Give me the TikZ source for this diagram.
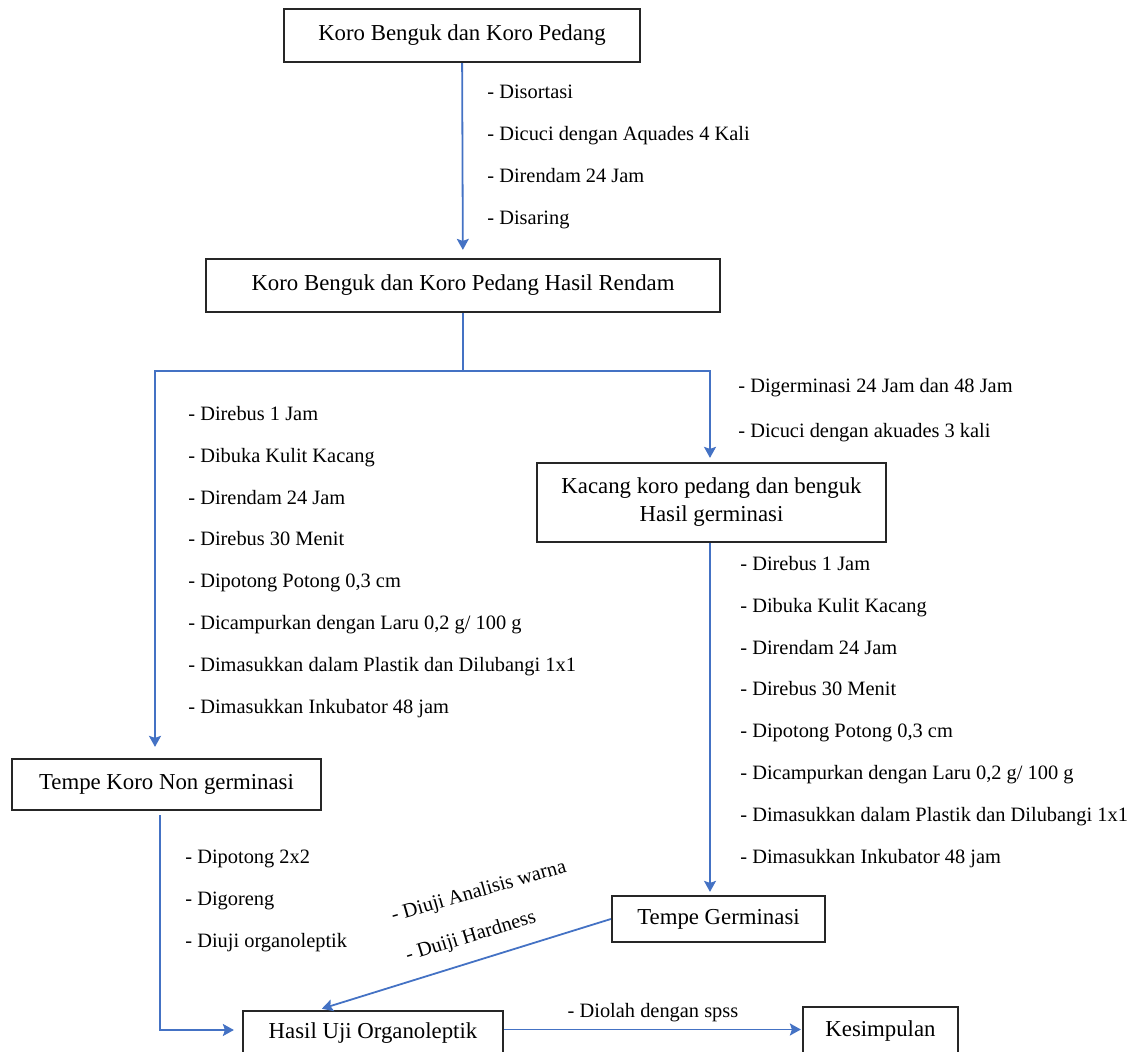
\documentclass[tikz,border=0pt]{standalone}
\usepackage{fontspec}
\setmainfont{Liberation Serif}
\usetikzlibrary{arrows.meta}

\definecolor{flowblue}{HTML}{4472C4}

\tikzset{
  box/.style={draw=black!85, line width=1.1pt, inner sep=0pt, align=center, font=\fontsize{11.4}{14}\selectfont},
  flow/.style={draw=flowblue, line width=0.9pt, -{Stealth[length=5.5pt,width=6pt,inset=1pt]}},
  link/.style={draw=flowblue, line width=0.9pt},
  steps/.style={anchor=north west, inner sep=0pt, align=left, font=\fontsize{10.2}{20.9}\selectfont},
  note/.style={inner sep=0pt, font=\fontsize{10.2}{12}\selectfont},
}

\begin{document}
\begin{tikzpicture}[x=0.5pt, y=-0.5pt]
\useasboundingbox (0,0) rectangle (1141,1052);

% Boxes
\node[box, minimum width=178pt, minimum height=26.5pt] (koro) at (462,35.5) {Koro Benguk dan Koro Pedang};
\node[box, minimum width=257pt, minimum height=26.5pt] (rendam) at (463,285.5) {Koro Benguk dan Koro Pedang Hasil Rendam};
\node[box, minimum width=174.5pt, minimum height=39.5pt] (germ) at (711.5,502.5) {Kacang koro pedang dan benguk\\Hasil germinasi};
\node[box, minimum width=154.5pt, minimum height=25.5pt] (nongerm) at (166.5,784.5) {Tempe Koro Non germinasi};
\node[box, minimum width=106.5pt, minimum height=23pt] (tempeg) at (718.5,919) {Tempe Germinasi};
\node[box, minimum width=130pt, minimum height=22.5pt] (hasil) at (373,1033.5) {Hasil Uji Organoleptik};
\node[box, minimum width=77.5pt, minimum height=24.5pt] (simpul) at (880.5,1031.5) {Kesimpulan};

% Branch points
\coordinate (split) at (463,371);
\coordinate (lturn) at (155,371);
\coordinate (rturn) at (710,371);
\coordinate (ncorner) at (160,1030);

% Connectors
\draw[flow, shorten >=4pt] (koro) -- (rendam);
\draw[link] (rendam) -- (split);
\draw[flow, shorten >=5.5pt] (split) -- (lturn) -- (lturn |- nongerm.north);
\draw[flow, shorten >=2pt] (split) -- (rturn) -- (rturn |- germ.north);
\draw[flow, shorten >=1.5pt] (germ.south -| rturn) -- (rturn |- tempeg.north);
\draw[flow, shorten >=4pt, shorten <=2pt] (nongerm.south -| ncorner) -- (ncorner) -- (ncorner -| hasil.west);
\draw[flow, shorten >=2pt] (tempeg.west) -- ([xshift=-27.5pt]hasil.north);
\draw[flow, shorten >=0.5pt] ([yshift=2pt]hasil.east) -- ([yshift=2pt]hasil.east -| simpul.west);

% Process steps
\node[steps] (sortir) at (487,85) {- Disortasi\\- Dicuci dengan Aquades 4 Kali\\- Direndam 24 Jam\\- Disaring};
\node[steps] (nonsteps) at (188,406) {- Direbus 1 Jam\\- Dibuka Kulit Kacang\\- Direndam 24 Jam\\- Direbus 30 Menit\\- Dipotong Potong 0,3 cm\\- Dicampurkan dengan Laru 0,2 g/ 100 g\\- Dimasukkan dalam Plastik dan Dilubangi 1x1\\- Dimasukkan Inkubator 48 jam};
\node[steps] (germsteps) at (738,378) {- Digerminasi 24 Jam dan 48 Jam\\[1.5pt]- Dicuci dengan akuades 3 kali};
\node[steps] (tempesteps) at (740,556) {- Direbus 1 Jam\\- Dibuka Kulit Kacang\\- Direndam 24 Jam\\- Direbus 30 Menit\\- Dipotong Potong 0,3 cm\\- Dicampurkan dengan Laru 0,2 g/ 100 g\\- Dimasukkan dalam Plastik dan Dilubangi 1x1\\- Dimasukkan Inkubator 48 jam};
\node[steps] (gorengsteps) at (185,850) {- Dipotong 2x2\\- Digoreng\\- Diuji organoleptik};

% Labels on arrows
\node[note] (spss) at (653,1013) {- Diolah dengan spss};
\node[note, rotate=16] (warna) at (479,892) {- Diuji Analisis warna};
\node[note, rotate=17] (hard) at (471,937) {- Duiji Hardness};

\end{tikzpicture}
\end{document}
